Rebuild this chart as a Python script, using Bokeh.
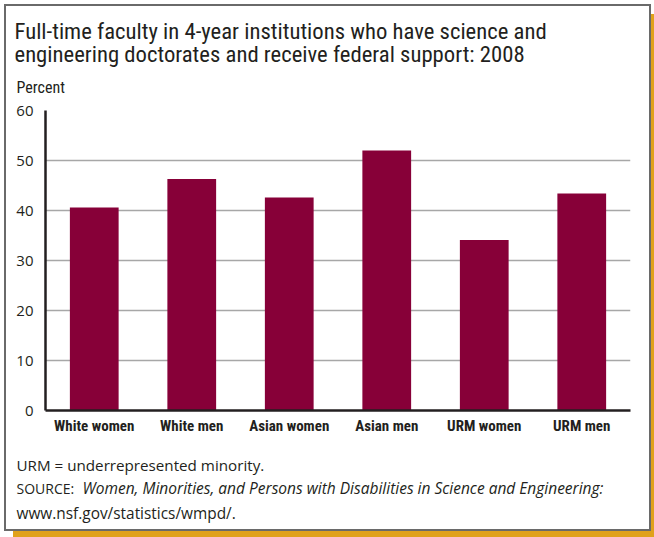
from bokeh.plotting import figure
from bokeh.models import Label, FactorRange, Range1d, FixedTicker
from bokeh.layouts import column
from bokeh.embed import file_html
from bokeh.resources import INLINE

# ---- data ----
categories = ["White women", "White men", "Asian women", "Asian men", "URM women", "URM men"]
values = [40.6, 46.3, 42.6, 52.0, 34.1, 43.4]
y_ticks = [0, 10, 20, 30, 40, 50, 60]
title_lines = [
    "Full-time faculty in 4-year institutions who have science and",
    "engineering doctorates and receive federal support: 2008",
]
y_label = "Percent"
note_line = "URM = underrepresented minority."
source_prefix = "SOURCE:"
source_title = "Women, Minorities, and Persons with Disabilities in Science and Engineering:"
source_url = "www.nsf.gov/statistics/wmpd/."

# ---- styles ----
COND = "Roboto Condensed"
BODY = "Open Sans"
INK = "#231f20"
BAR = "#870038"
W = 643


def text_panel(height):
    f = figure(width=W, height=height, x_range=Range1d(0, 1), y_range=Range1d(0, 1),
               x_axis_type=None, y_axis_type=None, output_backend="svg",
               toolbar_location=None, min_border=0, frame_align=False)
    f.outline_line_color = None
    f.background_fill_color = "white"
    f.border_fill_color = "white"
    f.xgrid.visible = False
    f.ygrid.visible = False
    return f


def lab(fig, x, y, text, font, size, style="normal"):
    fig.add_layout(Label(x=x, y=y, x_units="screen", y_units="screen", text=text,
                         text_font=font, text_font_size=size, text_font_style=style,
                         text_color=INK, text_baseline="alphabetic", text_align="left"))


# header
head = text_panel(94)
lab(head, 8, 69, title_lines[0], COND, "22.7px")
lab(head, 8, 46, title_lines[1], COND, "22.7px")
lab(head, 10, 13, y_label, COND, "16px")

# chart
p = figure(
    width=W, height=345,
    x_range=FactorRange(*categories, range_padding=0),
    y_range=Range1d(0, 60),
    output_backend="svg", toolbar_location=None,
    min_border_left=39, min_border_right=19,
    min_border_top=10, min_border_bottom=35,
    frame_align=False,
)
p.outline_line_color = None
p.background_fill_color = "white"
p.border_fill_color = "white"

p.vbar(x=categories, top=values, width=0.5, color=BAR, line_color=None)

p.xgrid.visible = False
p.ygrid.grid_line_color = "#a7a7a7"
p.ygrid.grid_line_width = 1.5
p.ygrid.ticker = FixedTicker(ticks=y_ticks)

p.yaxis.ticker = FixedTicker(ticks=y_ticks)
for ax in (p.xaxis, p.yaxis):
    ax.axis_line_color = INK
    ax.axis_line_width = 2.5
    ax.major_tick_line_color = None
    ax.minor_tick_line_color = None
    ax.major_tick_in = 0
    ax.major_tick_out = 0
    ax.major_label_text_color = INK

p.yaxis.major_label_text_font = BODY
p.yaxis.major_label_text_font_size = "15px"
p.yaxis.major_label_standoff = 12

p.xaxis.major_label_text_font = COND
p.xaxis.major_label_text_font_style = "bold"
p.xaxis.major_label_text_font_size = "15px"
p.xaxis.major_label_standoff = 6

# footer
foot = text_panel(84)
lab(foot, 10, 64.7, note_line, BODY, "15.2px")
lab(foot, 10, 41.2, source_prefix, BODY, "14px")
lab(foot, 76, 41.2, source_title, BODY, "15.5px", "italic")
lab(foot, 10, 16.5, source_url, BODY, "15.4px")

layout = column(head, p, foot, spacing=0)
layout.styles = {
    "position": "relative", "left": "4px", "top": "4px",
    "border": "2px solid #6a6a6a",
    "box-shadow": "7px 8px 0 -2px #e0a11b",
    "background": "white",
}

open("out.html", "w").write(file_html(layout, INLINE))
